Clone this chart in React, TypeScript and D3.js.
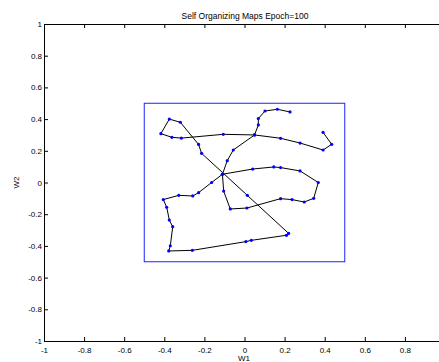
import { useRef, useEffect } from 'react'
import * as d3 from 'd3'

// SOM weight chain (W1, W2)
const w1 = [
  0.392, 0.435, 0.392, 0.277, 0.18, 0.05, -0.106, -0.315, -0.362, -0.417, -0.375, -0.32, -0.229, -0.214,
  0.014, 0.22, 0.209, 0.034, 0.007, -0.26, -0.378, -0.37, -0.358, -0.375, -0.388, -0.405, -0.328, -0.258,
  -0.229, -0.164, -0.11, 0.041, 0.146, 0.18, 0.277, 0.368, 0.345, 0.298, 0.237, 0.18, 0.012, -0.071,
  -0.104, -0.11, -0.086, -0.056, 0.05, 0.069, 0.069, 0.102, 0.164, 0.227,
]
const w2 = [
  0.316, 0.241, 0.205, 0.249, 0.279, 0.3, 0.304, 0.28, 0.285, 0.308, 0.4, 0.38, 0.24, 0.184,
  -0.081, -0.321, -0.333, -0.365, -0.373, -0.428, -0.432, -0.399, -0.279, -0.237, -0.156, -0.108, -0.081, -0.085,
  -0.064, 0, 0.052, 0.085, 0.098, 0.094, 0.073, 0, -0.1, -0.123, -0.108, -0.102, -0.161, -0.167,
  -0.054, 0.052, 0.138, 0.205, 0.3, 0.363, 0.403, 0.451, 0.462, 0.445,
]

// input region box
const boxX = [-0.5, 0.5]
const boxY = [-0.5, 0.5]

const tickValues = [-1, -0.8, -0.6, -0.4, -0.2, 0, 0.2, 0.4, 0.6, 0.8, 1]

const title = 'Self Organizing Maps Epoch=100'
const xLabel = 'W1'
const yLabel = 'W2'

const App = () => {
  const svgRef = useRef<SVGSVGElement>(null)

  useEffect(() => {
    const svg = d3.select(svgRef.current)
    svg.selectAll('*').remove()

    const left = 44
    const right = 445
    const top = 24
    const bottom = 341
    const font = 'Liberation Sans, Arial, sans-serif'

    const x = d3.scaleLinear().domain([-1, 1]).range([left, right])
    const y = d3.scaleLinear().domain([-1, 1]).range([bottom, top])

    svg.append('rect').attr('width', 439).attr('height', 362).attr('fill', 'white')

    const fmt = (d: any) => String(+(+d).toFixed(1))
    // the x=1 label falls past the window edge in the original
    const fmtX = (d: any) => (+d >= 1 ? '' : fmt(d))

    const xAxis = d3.axisBottom(x).tickValues(tickValues).tickSize(-4).tickPadding(6).tickFormat(fmtX)
    const xTop = d3.axisTop(x).tickValues(tickValues).tickSize(-4).tickFormat(() => '')
    const yAxis = d3.axisLeft(y).tickValues(tickValues).tickSize(-4).tickPadding(2).tickFormat(fmt)
    const yRight = d3.axisRight(y).tickValues(tickValues).tickSize(-4).tickFormat(() => '')

    const gx = svg.append('g').attr('transform', `translate(0,${bottom})`).call(xAxis)
    const gxt = svg.append('g').attr('transform', `translate(0,${top})`).call(xTop)
    const gy = svg.append('g').attr('transform', `translate(${left},0)`).call(yAxis)
    const gyr = svg.append('g').attr('transform', `translate(${right},0)`).call(yRight)

    ;[gx, gxt, gy, gyr].forEach((g) => {
      g.selectAll('.domain, .tick line').attr('stroke', 'black').attr('stroke-width', 1)
      g.selectAll('.tick text')
        .attr('fill', 'black')
        .attr('font-family', font)
        .attr('font-size', 8)
    })

    // input box
    svg
      .append('rect')
      .attr('x', x(boxX[0]))
      .attr('y', y(boxY[1]))
      .attr('width', x(boxX[1]) - x(boxX[0]))
      .attr('height', y(boxY[0]) - y(boxY[1]))
      .attr('fill', 'none')
      .attr('stroke', '#2020ff')
      .attr('stroke-width', 1)

    const pts = w1.map((v, i) => [v, w2[i]] as [number, number])

    const line = d3
      .line<[number, number]>()
      .x((d) => x(d[0]))
      .y((d) => y(d[1]))

    svg
      .append('path')
      .attr('d', line(pts))
      .attr('fill', 'none')
      .attr('stroke', 'black')
      .attr('stroke-width', 1)

    svg
      .selectAll('circle.node')
      .data(pts)
      .enter()
      .append('circle')
      .attr('class', 'node')
      .attr('cx', (d) => x(d[0]))
      .attr('cy', (d) => y(d[1]))
      .attr('r', 1.6)
      .attr('fill', '#0000ff')

    svg
      .append('text')
      .text(title)
      .attr('x', 245)
      .attr('y', 19)
      .attr('text-anchor', 'middle')
      .attr('font-family', font)
      .attr('font-size', 8.5)

    svg
      .append('text')
      .text(xLabel)
      .attr('x', 244)
      .attr('y', 361)
      .attr('text-anchor', 'middle')
      .attr('font-family', font)
      .attr('font-size', 8)

    svg
      .append('text')
      .text(yLabel)
      .attr('transform', `translate(19,${(top + bottom) / 2}) rotate(-90)`)
      .attr('text-anchor', 'middle')
      .attr('font-family', font)
      .attr('font-size', 8)
  }, [])

  return (
    <svg
      ref={svgRef}
      width={439}
      height={362}
      style={{ position: 'absolute', left: 0, top: 0, overflow: 'hidden' }}
    ></svg>
  )
}

export default App
